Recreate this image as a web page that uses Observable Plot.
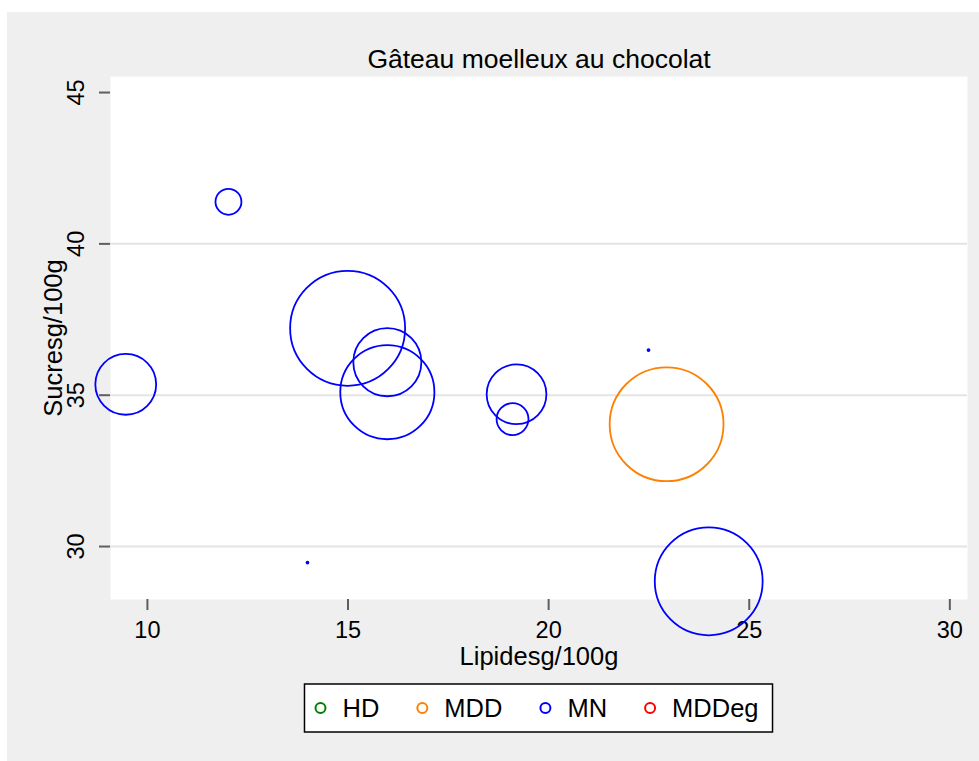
<!DOCTYPE html>
<html>
<head>
<meta charset="utf-8">
<script src="https://cdn.jsdelivr.net/npm/d3@7"></script>
<script src="https://cdn.jsdelivr.net/npm/@observablehq/plot@0.6"></script>
<style>
  html, body { margin: 0; padding: 0; background: #ffffff; }
  svg text { font-family: "Liberation Sans", Arial, Helvetica, sans-serif; }
</style>
</head>
<body>
<div id="chart"></div>
<script>
// ---- data ----
const titre = "Gâteau moelleux au chocolat";
const labelX = "Lipidesg/100g";
const labelY = "Sucresg/100g";
const lipides = [9.46, 12.02, 14.99, 15.98, 15.98, 19.20, 19.10, 22.94, 23.99, 13.99, 22.49];
const sucres  = [35.36, 41.39, 37.21, 36.09, 35.10, 35.03, 34.21, 34.04, 28.85, 29.47, 36.49];
const poids   = [28, 5.1, 100, 35, 67, 27, 7.7, 98, 88, 0.03, 0.03];
const groupes = ["MN", "MN", "MN", "MN", "MN", "MN", "MN", "MDD", "MN", "MN", "MN"];
const categories = ["HD", "MDD", "MN", "MDDeg"];
const couleurs = ["#008000", "#ff8000", "#0000ff", "#ff0000"];
const ticksX = [10, 15, 20, 25, 30];
const ticksY = [30, 35, 40, 45];
const grilleY = [30, 35, 40];

const data = lipides.map((x, i) => ({x, y: sucres[i], w: poids[i], g: groupes[i]}));

const W = 979, H = 761;
const plot = Plot.plot({
  width: W, height: H,
  marginLeft: 110, marginRight: 12, marginTop: 76, marginBottom: 162,
  style: {background: "transparent", fontFamily: "Liberation Sans, Arial, sans-serif", color: "#000"},
  x: {domain: [9.08, 30.44]},
  y: {domain: [28.25, 45.53]},
  r: {type: "sqrt", domain: [0, 100], range: [0, 57.5]},
  color: {domain: categories, range: couleurs},
  marks: [
    Plot.frame({fill: "white", stroke: null}),
    Plot.gridY(grilleY, {stroke: "#e4e4e4", strokeOpacity: 1, strokeWidth: 2}),
    Plot.axisX(ticksX, {line: true, tickSize: 11, stroke: "#5e5e5e", strokeWidth: 2, tickFormat: () => "", label: null}),
    Plot.axisY(ticksY, {line: true, tickSize: 11, stroke: "#5e5e5e", strokeWidth: 2, tickFormat: () => "", label: null}),
    Plot.text(ticksX, {x: d => d, frameAnchor: "bottom", dy: 38, lineAnchor: "bottom", fontSize: 23.5, fill: "#000"}),
    Plot.text(ticksY, {y: d => d, frameAnchor: "left", dx: -27, rotate: -90, textAnchor: "middle", lineAnchor: "bottom", fontSize: 23.5, fill: "#000"}),
    Plot.text([labelX], {frameAnchor: "bottom", dy: 65, lineAnchor: "bottom", fontSize: 25.5, fill: "#000"}),
    Plot.text([labelY], {frameAnchor: "left", dx: -49, rotate: -90, textAnchor: "middle", lineAnchor: "bottom", fontSize: 25.5, fill: "#000"}),
    Plot.text([titre], {frameAnchor: "top", dy: -9, lineAnchor: "bottom", fontSize: 26.5, fill: "#000"}),
    Plot.dot(data, {x: "x", y: "y", r: "w", stroke: "g", fill: "none", strokeWidth: 1.8})
  ]
});

document.getElementById("chart").appendChild(plot);

// background panel
const svg = d3.select(plot);
svg.style("background", "#ffffff");
svg.insert("rect", ":first-child")
  .attr("x", 7).attr("y", 12).attr("width", W - 7).attr("height", H - 12)
  .attr("fill", "#efefef");

// legend (below the plot, centered on the plot area)
const cx = (110 + (W - 12)) / 2;
const legY = 708;
const leg = svg.append("g").attr("text-anchor", "start");
const box = leg.append("rect").attr("fill", "white").attr("stroke", "#000").attr("stroke-width", 1.5);
const items = leg.append("g");
let xpos = 0;
categories.forEach((c, i) => {
  items.append("circle").attr("cx", xpos).attr("cy", legY).attr("r", 5)
    .attr("fill", "none").attr("stroke", couleurs[i]).attr("stroke-width", 2);
  const t = items.append("text").attr("x", xpos + 22).attr("y", legY + 9)
    .attr("text-anchor", "start")
    .attr("font-size", 25.5).attr("fill", "#000").text(c);
  const tw = t.node().getComputedTextLength();
  xpos += 22 + tw + (i < categories.length - 1 ? 43 : 0);
});
const left = -16, right = xpos + 14;
const boxW = right - left;
const offset = cx - boxW / 2 - left;
items.attr("transform", `translate(${offset},0)`);
box.attr("x", cx - boxW / 2).attr("y", 684).attr("width", boxW).attr("height", 48);
</script>
</body>
</html>
